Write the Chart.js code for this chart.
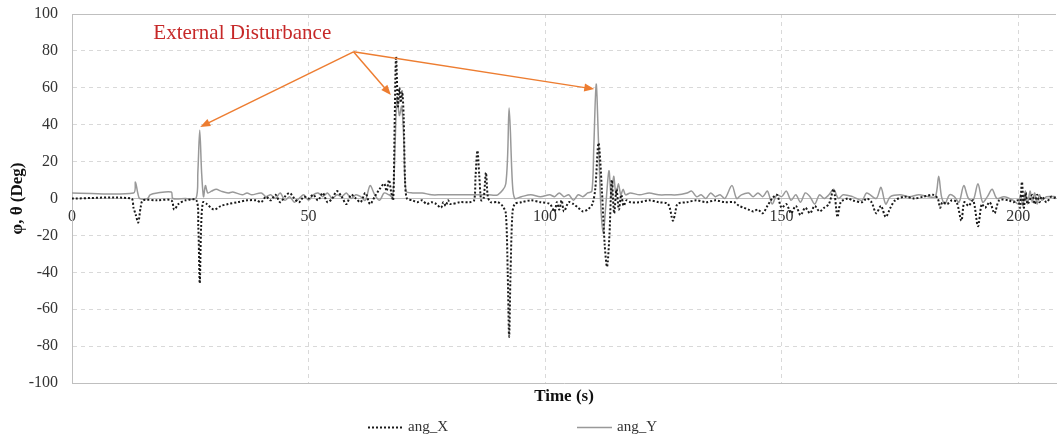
<!DOCTYPE html>
<html>
<head>
<meta charset="utf-8">
<script src="https://cdn.jsdelivr.net/npm/chart.js@4.4.0/dist/chart.umd.min.js"></script>
<style>
  html, body { margin: 0; padding: 0; background: #fff; }
  #wrap { width: 1058px; height: 439px; }
</style>
</head>
<body>
<div id="wrap"><canvas id="angleChart"></canvas></div>
<script>
// ang_X : time (s) and angle (deg)
const tX = [
  0, 12.5, 13, 13.5, 14, 14.5, 15, 18, 21, 21.6,
  22.5, 24, 26.3, 26.7, 27, 27.3, 27.7, 28.5, 30, 31.5,
  33, 35, 37, 39, 40, 41, 42, 43, 44, 45,
  46, 47, 48, 49, 50, 51, 52, 53, 54, 55,
  56, 57, 58, 59, 60, 61, 62, 63, 64, 65,
  66, 66.5, 67, 67.5, 67.9, 68.2, 68.5, 68.9, 69.2, 69.5,
  69.8, 70.1, 70.4, 70.8, 72, 73, 74, 75, 76, 77,
  78, 78.5, 79, 79.5, 80, 82, 84, 85, 85.3, 85.7,
  86.1, 86.5, 87, 87.5, 87.9, 88.5, 90, 91, 91.7, 92.1,
  92.4, 92.7, 93.1, 93.6, 95, 97, 99, 101, 102, 102.5,
  103, 103.5, 104, 105, 106, 107, 108, 109, 110, 110.6,
  111.3, 112, 112.6, 113.1, 113.6, 114.1, 114.6, 115.1, 115.6, 116.1,
  116.6, 117.2, 118, 120, 122, 124, 126, 127, 127.5, 128,
  130, 132, 134, 136, 138, 140, 141, 142, 143, 144,
  145, 146, 147, 148, 149, 150, 151, 152, 153, 154,
  155, 156, 157, 158, 159, 160, 161, 161.8, 162.5, 164,
  165, 167, 168, 169, 170, 171, 172, 173, 174, 176,
  178, 180, 182, 183, 183.5, 184, 185, 186, 187, 188,
  188.6, 189.5, 190.5, 191.5, 192.3, 193, 194, 195, 196, 198,
  199, 200, 200.4, 200.8, 201.2, 201.6, 202, 203, 203.5, 204,
  204.5, 205, 206, 207, 208
];
const angX = [
  0, 0, -5, -9, -13, -5, -1, -1, -1, -6,
  -3, -1, -1, -15, -46, -15, -2, -3, -6, -4,
  -3, -2, -1, -1, -2, 1, -1, 2, -2, 1,
  3, 0, -2, 1, 0, 2, -1, 3, -2, 0,
  4, 1, -3, 2, 0, -2, 3, -3, 1, 5,
  8, 4, 10, 3, -1, 40, 77, 50, 60, 52,
  58, 45, 10, 0, -1, -2, -1, -3, -2, -3,
  -5, -2, -4, -1, -3, -2, -2, -1, 12, 26,
  12, -1, 0, 14, 1, -2, -2, -4, -8, -40,
  -75, -40, -8, -3, -2, -1, -2, -3, -7, -2,
  -6, -1, -7, -2, -3, -5, -7, -6, -3, 5,
  30, 5, -25, -37, -20, 10, -8, 5, -6, 2,
  -4, -1, -2, -2, -1, -2, -3, -12, -8, -3,
  -2, -1, -2, -1, -2, -2, -4, -5, -6, -7,
  -6, -8, -4, 0, 2, -5, -3, -8, -4, -9,
  -5, -8, -4, -7, -5, -3, 5, -10, -2, 0,
  -1, -2, 0, -2, -8, -4, -10, -5, -1, 1,
  0, 1, 2, 0, -5, -2, -3, -1, -2, -12,
  -2, -4, -1, -15, -3, -5, -2, -8, -1, -1,
  -2, -1, -5, 9, -5, 3, -3, 2, -3, 2,
  -2, 1, -2, 1, 0
];

// ang_Y : time (s) and angle (deg)
const tY = [
  0, 13, 13.4, 13.9, 14.3, 16, 16.5, 18, 21, 21.3,
  24, 26.2, 26.6, 27, 27.4, 27.8, 28.2, 28.7, 29.5, 30.5,
  31.5, 33, 34, 36, 37, 38, 40, 41, 42, 43,
  44, 45, 46, 47, 48, 49, 50, 51, 52, 53,
  54, 55, 56, 57, 58, 59, 60, 61, 62, 63,
  64, 65, 66, 67, 67.8, 68.3, 68.7, 69.2, 69.7, 70.2,
  70.6, 72, 74, 76, 78, 80, 82, 84, 86, 88,
  90, 91.7, 92.4, 93.1, 93.6, 95, 97, 99, 101, 102,
  103, 104, 105, 106, 107, 108, 109, 109.9, 110.3, 110.8,
  111.3, 111.8, 112.3, 112.8, 113.5, 114, 114.5, 115, 115.5, 116,
  116.5, 117, 118, 120, 122, 124, 126, 128, 130, 131,
  132, 133, 134, 135, 136, 137, 138, 139.5, 140.5, 141.5,
  143, 144, 145, 146, 147, 148, 149, 150, 151, 152,
  153, 154, 155, 156, 157, 158, 159, 160, 161, 162,
  163, 165, 167, 168, 170, 171, 172, 173, 175, 177,
  179, 181, 182.5, 183.2, 183.8, 184.5, 185.5, 186.5, 187.5, 188.5,
  189.5, 190.5, 191.5, 192.5, 193.5, 194.5, 195.5, 197, 199, 200,
  200.5, 201, 201.5, 202, 202.5, 203, 203.5, 204, 204.5, 205,
  206, 208
];
const angY = [
  3, 3, 9, 3, 0, 0, 2, 3, 3.5, 0,
  0, 0, 14, 37, 14, 1, 7, 3, 4, 5,
  4, 3, 3.5, 2, 3, 2, 3, 1, 2, 0,
  3, -1, 1, -2, 0, 2, -1, 2, 3, 1,
  3, 0, 2, 1, 3, 0, 2, 1, -1, 7,
  2, -1, 3, 2, 1, 30, 55, 45, 50, 28,
  4, 3, 3, 2, 2, 2, 2, 2, 2, 2,
  2, 8, 49, 8, 0, 1, 2, 1, 2, 1,
  3, 1, 2, -1, 2, 1, 3, 4, 28, 62,
  30, -5, -19, -5, 15, 0, 12, 2, 8, 2,
  5, 2, 3, 2, 3, 2, 2, 2, 3, 4,
  1, 2, 0, 3, 1, 2, 0, 7, 0, 2,
  3, 1, 3, 1, 4, -3, 2, 1, 4, -1,
  2, -2, 3, 1, -3, 2, 0, 2, 5, 0,
  2, 1, -1, 3, 0, 6, -3, 1, 2, 1,
  2, 1, 1, 12, 1, -3, 2, 1, -2, 7,
  0, -1, 8, -2, 1, 5, 0, 1, -1, -3,
  2, -4, 4, -3, 4, -2, 3, -3, 2, -1,
  1, 1
];

const seriesNames = ['ang_X', 'ang_Y'];
const xTicks = [0, 50, 100, 150, 200];
const yTicks = [-100, -80, -60, -40, -20, 0, 20, 40, 60, 80, 100];

// callout: label and arrows, in data units
const noteText = 'External Disturbance';
const noteAt = [17.2, 89.5];
const arrowFrom = [59.5, 79.5];
const arrowTo = [[27.1, 38.8], [67.4, 56.1], [110.4, 59.3]];

const serif = '"Liberation Serif", "Times New Roman", serif';
const gridCol = '#d9d9d9';
const axisCol = '#bfbfbf';

const notes = {
  id: 'notes',
  afterDatasetsDraw(chart) {
    const { ctx, scales: { x, y } } = chart;
    ctx.save();
    ctx.font = '21px ' + serif;
    ctx.fillStyle = '#c62828';
    ctx.textBaseline = 'middle';
    ctx.fillText(noteText, x.getPixelForValue(noteAt[0]), y.getPixelForValue(noteAt[1]));

    const fx = x.getPixelForValue(arrowFrom[0]);
    const fy = y.getPixelForValue(arrowFrom[1]);
    ctx.strokeStyle = '#ed7d31';
    ctx.fillStyle = '#ed7d31';
    ctx.lineWidth = 1.5;
    arrowTo.forEach(([tx, ty]) => {
      const px = x.getPixelForValue(tx);
      const py = y.getPixelForValue(ty);
      const a = Math.atan2(py - fy, px - fx);
      const len = 10, half = 4;
      const c = Math.cos(a), s = Math.sin(a);
      ctx.beginPath();
      ctx.moveTo(fx, fy);
      ctx.lineTo(px - c * len * 0.8, py - s * len * 0.8);
      ctx.stroke();
      ctx.beginPath();
      ctx.moveTo(px, py);
      ctx.lineTo(px - c * len + s * half, py - s * len - c * half);
      ctx.lineTo(px - c * len - s * half, py - s * len + c * half);
      ctx.closePath();
      ctx.fill();
    });

    // top frame line
    const area = chart.chartArea;
    ctx.strokeStyle = axisCol;
    ctx.lineWidth = 1;
    ctx.beginPath();
    ctx.moveTo(area.left, area.top + 0.5);
    ctx.lineTo(area.right, area.top + 0.5);
    ctx.stroke();
    ctx.restore();
  }
};

// legend row under the axis title
const legendRow = {
  id: 'legendRow',
  afterDraw(chart) {
    const ctx = chart.ctx;
    const spots = [368, 577];
    const rowY = 427;
    ctx.save();
    ctx.font = '15px ' + serif;
    ctx.textBaseline = 'middle';
    chart.data.datasets.forEach((ds, i) => {
      const x0 = spots[i];
      ctx.strokeStyle = ds.borderColor;
      ctx.lineWidth = ds.borderWidth;
      ctx.setLineDash(ds.borderDash || []);
      ctx.beginPath();
      ctx.moveTo(x0, rowY + 0.5);
      ctx.lineTo(x0 + 35, rowY + 0.5);
      ctx.stroke();
      ctx.setLineDash([]);
      ctx.fillStyle = '#333';
      ctx.fillText(ds.label, x0 + 40, rowY);
    });
    ctx.restore();
  }
};

new Chart(document.getElementById('angleChart'), {
  type: 'line',
  data: {
    datasets: [
      {
        label: seriesNames[0],
        data: tX.map((t, i) => ({ x: t, y: angX[i] })),
        borderColor: '#1a1a1a',
        borderWidth: 2,
        borderDash: [2, 2],
        pointRadius: 0,
        tension: 0.3
      },
      {
        label: seriesNames[1],
        data: tY.map((t, i) => ({ x: t, y: angY[i] })),
        borderColor: '#999999',
        borderWidth: 1.5,
        pointRadius: 0,
        tension: 0.3
      }
    ]
  },
  options: {
    responsive: true,
    maintainAspectRatio: false,
    animation: false,
    layout: { padding: { top: 14, right: 2, left: 0, bottom: 0 } },
    plugins: {
      legend: { display: false },
      tooltip: { enabled: false }
    },
    scales: {
      x: {
        type: 'linear',
        position: { y: 0 },
        min: 0,
        max: 208,
        afterBuildTicks: s => { s.ticks = xTicks.map(v => ({ value: v })); },
        grid: {
          color: c => (c.tick && c.tick.value === 0 ? 'rgba(0,0,0,0)' : gridCol),
          drawTicks: false
        },
        border: { display: true, color: axisCol, dash: [4, 4] },
        ticks: {
          padding: 9,
          maxRotation: 0,
          color: '#333',
          font: { family: serif, size: 16 }
        }
      },
      xb: {
        type: 'linear',
        position: 'bottom',
        min: 0,
        max: 208,
        afterFit: s => { s.height = 56; },
        grid: { display: false },
        border: { display: true, color: axisCol },
        ticks: { display: false },
        title: {
          display: true,
          text: 'Time (s)',
          color: '#111',
          font: { family: serif, size: 17, weight: 'bold' },
          padding: { top: 4, bottom: 32 }
        }
      },
      y: {
        min: -100,
        max: 100,
        afterBuildTicks: s => { s.ticks = yTicks.map(v => ({ value: v })); },
        afterFit: s => {
          s.width = 72;
          s.paddingTop = 0;
          s.paddingBottom = 0;
        },
        grid: {
          color: c => {
            const v = c.tick && c.tick.value;
            return (v === 0 || v === 100 || v === -100) ? 'rgba(0,0,0,0)' : gridCol;
          },
          drawTicks: false
        },
        border: { display: true, color: axisCol, dash: [4, 4] },
        ticks: {
          padding: 14,
          color: '#333',
          font: { family: serif, size: 16 }
        },
        title: {
          display: true,
          text: 'φ, θ (Deg)',
          color: '#111',
          font: { family: serif, size: 17, weight: 'bold' },
          padding: { top: 7, bottom: 4 }
        }
      }
    }
  },
  plugins: [notes, legendRow]
});
</script>
</body>
</html>
